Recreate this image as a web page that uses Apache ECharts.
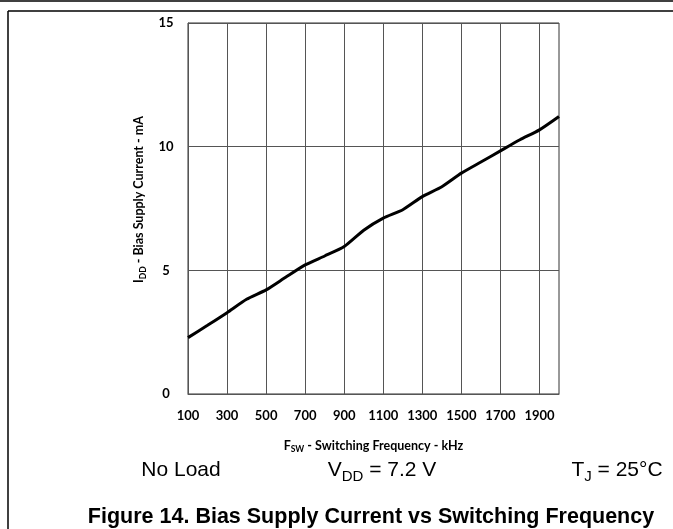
<!DOCTYPE html>
<html>
<head>
<meta charset="utf-8">
<script src="https://cdn.jsdelivr.net/npm/echarts@6/dist/echarts.min.js"></script>
<style>
  html, body { margin: 0; padding: 0; background: #fff; }
  #chart { width: 673px; height: 529px; }
</style>
</head>
<body>
<div id="chart"></div>
<script>
// switching frequency, kHz
const freqs = [100, 200, 300, 400, 500, 600, 700, 800, 900, 1000,
  1100, 1200, 1300, 1400, 1500, 1600, 1700, 1800, 1900, 2000];
// bias supply current, mA
const current = [2.28, 2.78, 3.29, 3.83, 4.21, 4.72, 5.22, 5.58, 5.96, 6.62,
  7.11, 7.45, 7.98, 8.38, 8.93, 9.38, 9.83, 10.28, 10.68, 11.22];
const yTicks = [0, 5, 10, 15];

const axisFont = "Lato";
const noteFont = "'Liberation Sans', Arial";

const chart = echarts.init(document.getElementById("chart"));

const option = {
  animation: false,
  grid: {
    left: 188,
    right: 114,
    top: 23,
    bottom: 135,
    show: true,
    borderColor: "#333",
    borderWidth: 1,
  },
  xAxis: {
    type: "category",
    data: freqs.map(String),
    boundaryGap: false,
    axisLine: { show: true, lineStyle: { color: "#555", width: 1 } },
    axisTick: { show: false },
    axisLabel: {
      interval: 1,
      margin: 15,
      fontFamily: axisFont,
      fontWeight: "bold",
      fontSize: 13,
      color: "#000",
    },
    splitLine: {
      show: true,
      interval: 1,
      lineStyle: { color: "#555", width: 1 },
    },
    name: "{b|F}{s|SW}{b| - Switching Frequency - kHz}",
    nameLocation: "middle",
    nameGap: 45,
    nameTextStyle: {
      rich: {
        b: { fontFamily: axisFont, fontWeight: "bold", fontSize: 12.5, color: "#000", verticalAlign: "bottom" },
        s: { fontFamily: axisFont, fontWeight: "bold", fontSize: 8.5, color: "#000", verticalAlign: "bottom", padding: [0, 0, -2, 0] },
      },
    },
  },
  yAxis: {
    type: "value",
    min: yTicks[0],
    max: yTicks[yTicks.length - 1],
    interval: 5,
    axisLine: { show: true, lineStyle: { color: "#555", width: 1 } },
    axisTick: { show: false },
    axisLabel: {
      align: "center",
      margin: 22,
      fontFamily: axisFont,
      fontWeight: "bold",
      fontSize: 13,
      color: "#000",
    },
    splitLine: { show: true, lineStyle: { color: "#555", width: 1 } },
    name: "{b|I}{s|DD}{b| - Bias Supply Current - mA}",
    nameLocation: "middle",
    nameRotate: 90,
    nameGap: 42,
    nameTextStyle: {
      padding: [0, 0, 0, 18],
      rich: {
        b: { fontFamily: axisFont, fontWeight: "bold", fontSize: 12.5, color: "#000", verticalAlign: "bottom" },
        s: { fontFamily: axisFont, fontWeight: "bold", fontSize: 8.5, color: "#000", verticalAlign: "bottom", padding: [0, 0, -2, 0] },
      },
    },
  },
  series: [
    {
      type: "line",
      data: current,
      showSymbol: false,
      smooth: 0.2,
      lineStyle: { color: "#000", width: 3 },
    },
  ],
  graphic: [
    // page frame
    { type: "line", shape: { x1: 0, y1: 1, x2: 673, y2: 1 }, style: { stroke: "#000", lineWidth: 1.5 } },
    { type: "line", shape: { x1: 8, y1: 11, x2: 673, y2: 11 }, style: { stroke: "#000", lineWidth: 1.5 } },
    { type: "line", shape: { x1: 8, y1: 11, x2: 8, y2: 529 }, style: { stroke: "#000", lineWidth: 1.5 } },
    {
      type: "text", x: 181, y: 470,
      style: { text: "No Load", font: "21px " + noteFont, fill: "#000", align: "center", verticalAlign: "middle" },
    },
    {
      type: "text", x: 382, y: 470,
      style: {
        text: "{a|V}{s|DD}{a| = 7.2 V}", align: "center", verticalAlign: "middle",
        rich: {
          a: { fontFamily: noteFont, fontSize: 21, fill: "#000", verticalAlign: "bottom" },
          s: { fontFamily: noteFont, fontSize: 15, fill: "#000", verticalAlign: "bottom", padding: [0, 0, -4, 0] },
        },
      },
    },
    {
      type: "text", x: 617, y: 470,
      style: {
        text: "{a|T}{s|J}{a| = 25°C}", align: "center", verticalAlign: "middle",
        rich: {
          a: { fontFamily: noteFont, fontSize: 21, fill: "#000", verticalAlign: "bottom" },
          s: { fontFamily: noteFont, fontSize: 15, fill: "#000", verticalAlign: "bottom", padding: [0, 0, -4, 0] },
        },
      },
    },
    {
      type: "text", x: 371, y: 517,
      style: {
        text: "Figure 14. Bias Supply Current vs Switching Frequency",
        font: "bold 21.5px " + noteFont, fill: "#000", align: "center", verticalAlign: "middle",
      },
    },
  ],
};

chart.setOption(option);
</script>
</body>
</html>
